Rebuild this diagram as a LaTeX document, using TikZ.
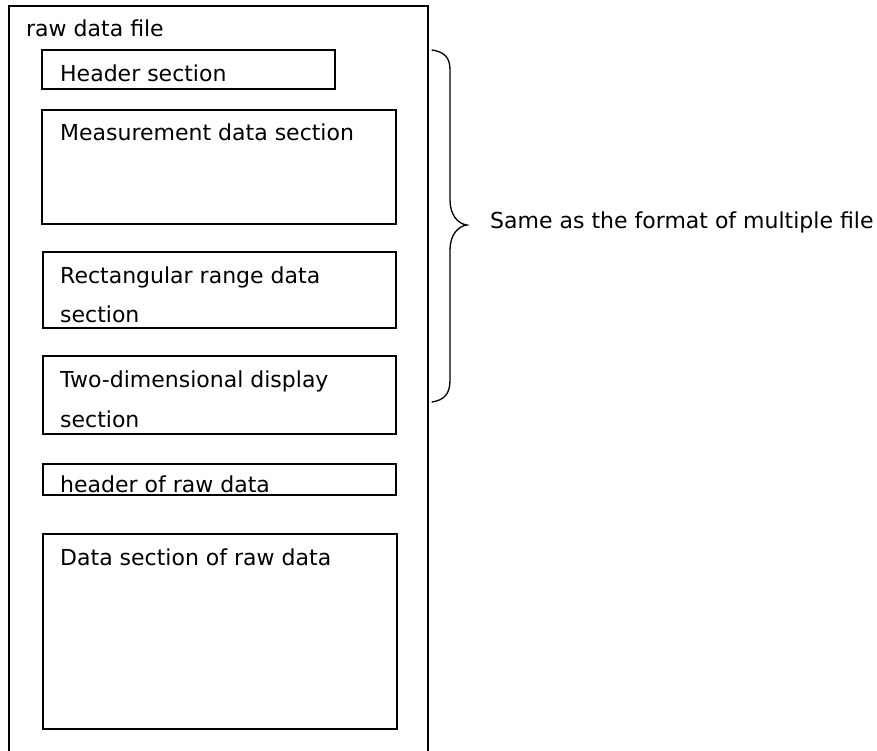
\documentclass[tikz,border=0pt]{standalone}
\usepackage{fontspec}
\setmainfont{DejaVu Sans}
\begin{document}
\begin{tikzpicture}[x=1pt,y=-1pt,
  box/.style={draw=black,line width=1.6pt},
  lbl/.style={anchor=base west,inner sep=0pt,font=\fontsize{22}{26}\selectfont}]
\useasboundingbox (0,0) rectangle (877,751);
\fill[white] (0,0) rectangle (877,751);
% outer file box (open at the bottom)
\draw[line width=1.8pt] (9,751) -- (9,6) -- (428,6) -- (428,751);
% inner sections
\draw[box] (42,50) rectangle (335,89);
\draw[box] (42,110) rectangle (396,224);
\draw[box] (43,252) rectangle (396,328);
\draw[box] (43,356) rectangle (396,434);
\draw[box] (43,464) rectangle (396,495);
\draw[box] (43,534) rectangle (397,729);
% labels
\node[lbl] (file) at (26,37) {raw data file};
\node[lbl] (hdr) at (60,82) {Header section};
\node[lbl] (meas) at (60,141) {Measurement data section};
\node[lbl] (recta) at (60,283) {Rectangular range data};
\node[lbl] (rectb) at (60,322) {section};
\node[lbl] (twoa) at (60,387) {Two-dimensional display};
\node[lbl] (twob) at (60,427) {section};
\node[lbl] (rawh) at (60,492) {header of raw data};
\node[lbl] (rawd) at (60,565) {Data section of raw data};
% brace
\draw[line width=1.3pt,line cap=round]
  (432,50) .. controls (445,52) and (450,58) .. (450,70)
  -- (450,200) .. controls (450,215) and (458,224) .. (467,225)
  .. controls (458,226) and (450,235) .. (450,250)
  -- (450,380) .. controls (450,393) and (445,400) .. (432,402);
\node[lbl] (same) at (490,229) {Same as the format of multiple file};
\end{tikzpicture}
\end{document}
